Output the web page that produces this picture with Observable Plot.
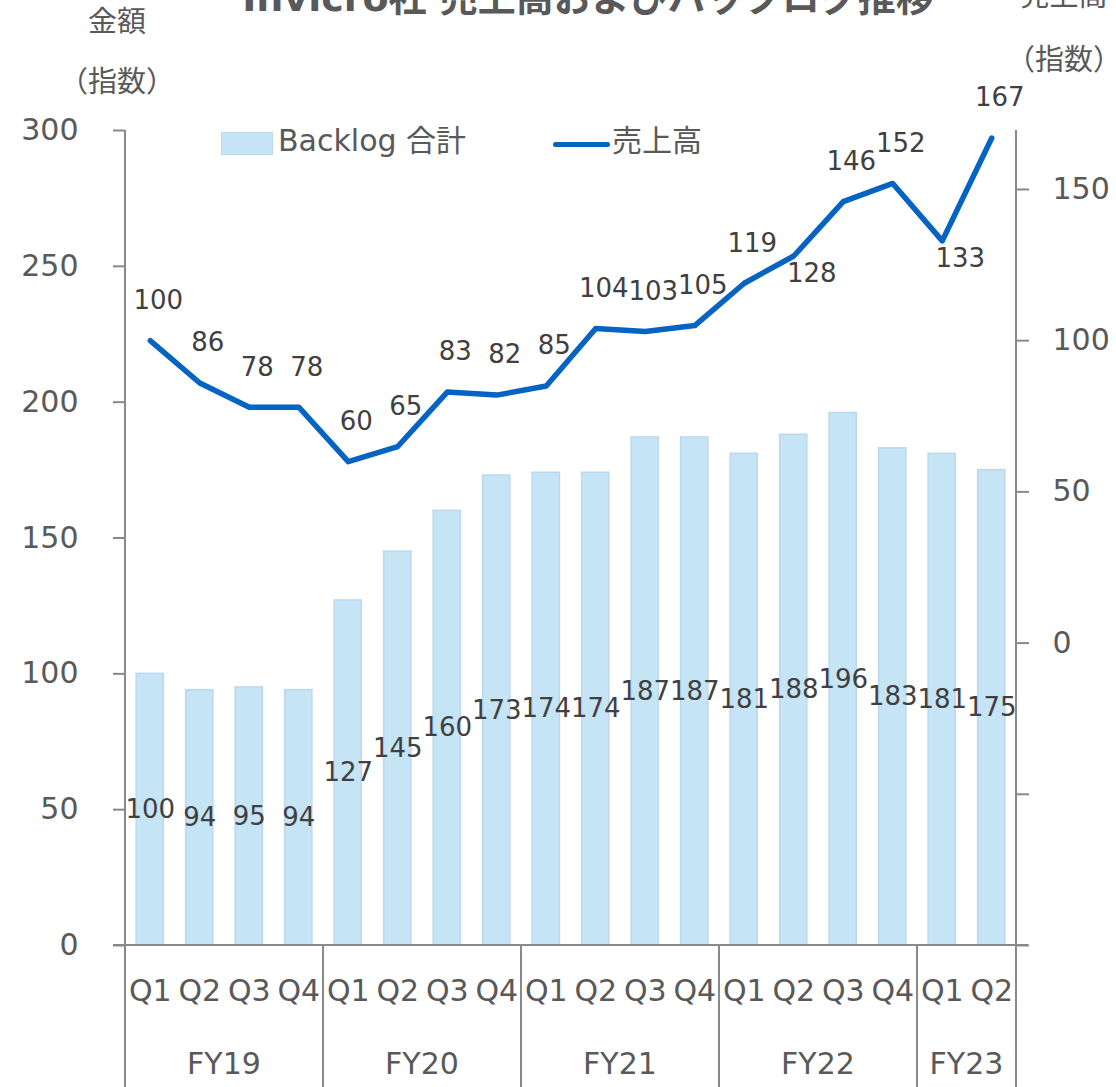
<!DOCTYPE html>
<html><head><meta charset="utf-8">
<script src="https://cdn.jsdelivr.net/npm/d3@7"></script>
<script src="https://cdn.jsdelivr.net/npm/@observablehq/plot@0.6"></script>
<style>
html,body{margin:0;padding:0;background:#fff;overflow:hidden}
#wrap{position:relative;width:1116px;height:1087px;overflow:hidden;font-family:"DejaVu Sans","Noto Sans CJK JP",sans-serif;color:#595959}
#wrap svg{position:absolute;left:0;top:0}
.abs{position:absolute;white-space:nowrap}
</style></head><body>
<div id="wrap">
  <div id="chart"></div>
  <div class="abs" style="left:0;width:1176px;text-align:center;top:-21px;font-size:38px;line-height:38px;font-weight:bold;">Invicro社 売上高およびバックログ推移</div>
  <div class="abs" style="left:57px;width:120px;text-align:center;top:7px;font-size:29px;line-height:30px;">金額</div>
  <div class="abs" style="left:37px;width:160px;text-align:center;top:67px;font-size:29px;line-height:30px;">（指数）</div>
  <div class="abs" style="left:1004px;width:120px;text-align:center;top:-19px;font-size:29px;line-height:30px;">売上高</div>
  <div class="abs" style="left:984px;width:160px;text-align:center;top:45px;font-size:29px;line-height:30px;">（指数）</div>
  <div class="abs" style="left:221px;top:132px;width:50px;height:21px;background:#C5E4F5;border:1px solid #BCD8EE;"></div>
  <div class="abs" style="left:278px;top:126px;font-size:30px;line-height:30px;">Backlog 合計</div>
  <div class="abs" style="left:553px;top:142px;width:57px;height:5px;background:#0563C1;border-radius:3px;"></div>
  <div class="abs" style="left:612px;top:126px;font-size:30px;line-height:30px;">売上高</div>
</div>
<script>
const quarters = ["Q1","Q2","Q3","Q4","Q1","Q2","Q3","Q4","Q1","Q2","Q3","Q4","Q1","Q2","Q3","Q4","Q1","Q2"];
const fiscalYears = ["FY19","FY19","FY19","FY19","FY20","FY20","FY20","FY20","FY21","FY21","FY21","FY21","FY22","FY22","FY22","FY22","FY23","FY23"];
const backlog = [100,94,95,94,127,145,160,173,174,174,187,187,181,188,196,183,181,175];
const sales = [100,86,78,78,60,65,83,82,85,104,103,105,119,128,146,152,133,167];
const fyGroups = ["FY19","FY20","FY21","FY22","FY23"];
const leftTicks = [0,50,100,150,200,250,300];
const rightTicks = [-100,-50,0,50,100,150];
const salesLabelBelow = [13,16]; // indices whose label sits under the line

const L_MAX = 300, R_MIN = -100, R_MAX = 169.5;
const toLeft = v => (v - R_MIN) / (R_MAX - R_MIN) * L_MAX;
const fromLeft = d => d / L_MAX * (R_MAX - R_MIN) + R_MIN;

const rows = quarters.map((q, i) => ({
  key: fiscalYears[i] + "-" + q, q, fy: fiscalYears[i], i,
  backlog: backlog[i], sales: sales[i], salesL: toLeft(sales[i])
}));
const keys = rows.map(d => d.key);
const font = '"DejaVu Sans","Noto Sans CJK JP",sans-serif';
const axisColor = "#898989";
const W = 1116, H = 1087, mL = 125, mR = 100;
const stepPx = (W - mL - mR) / keys.length;
const barInset = stepPx * 0.225;

const plot = Plot.plot({
  width: W, height: H,
  marginLeft: mL, marginRight: mR, marginTop: 130, marginBottom: 142,
  style: {fontFamily: font, fontSize: "30px", color: "#595959", background: "transparent", overflow: "visible"},
  x: {type: "band", domain: keys, padding: 0, round: false, axis: null},
  y: {domain: [0, L_MAX], axis: null},
  marks: [
    Plot.barY(rows, {x: "key", y: "backlog", fill: "#C5E4F5", stroke: "#BCD8EE", strokeWidth: 1.5, insetLeft: barInset, insetRight: barInset}),
    Plot.axisY(leftTicks, {anchor: "left", tickSize: 12, tickPadding: 35, stroke: axisColor, strokeWidth: 2, fill: "#595959", fontSize: 30, label: null}),
    Plot.axisY(rightTicks.map(toLeft), {anchor: "right", tickSize: 12, tickPadding: 24, stroke: axisColor, strokeWidth: 2, fill: "#595959", fontSize: 30, label: null,
      tickFormat: d => { const v = Math.round(fromLeft(d)); return v >= 0 ? String(v) : ""; }}),
    Plot.axisX({anchor: "bottom", tickSize: 0, tickPadding: 34, fontSize: 30, fill: "#595959", label: null, tickFormat: k => k.split("-")[1]}),
    Plot.text(rows, {x: "key", y: d => d.backlog / 2, text: d => String(d.backlog), fontSize: 26, fill: "#404040"}),
    Plot.line(rows, {x: "key", y: "salesL", stroke: "#0563C1", strokeWidth: 5.5, strokeLinejoin: "round", strokeLinecap: "round"}),
    Plot.text(rows.filter(d => !salesLabelBelow.includes(d.i)), {x: "key", y: "salesL", text: d => String(d.sales), dy: -40, dx: 8, fontSize: 26, fill: "#404040"}),
    Plot.text(rows.filter(d => salesLabelBelow.includes(d.i)), {x: "key", y: "salesL", text: d => String(d.sales), dy: 18, dx: 18, fontSize: 26, fill: "#404040"})
  ]
});
document.getElementById("chart").appendChild(plot);

// axis lines, category separators and fiscal-year labels, placed from the plot's scales
const sx = plot.scale("x"), sy = plot.scale("y");
const xL = mL, xR = W - mR;
const y0 = sy.apply(0), yTop = sy.apply(L_MAX);
const g = d3.select(plot).append("g").attr("stroke", axisColor).attr("stroke-width", 2);
g.append("line").attr("x1", xL).attr("x2", xL).attr("y1", yTop).attr("y2", H);
g.append("line").attr("x1", xR).attr("x2", xR).attr("y1", yTop).attr("y2", H);
g.append("line").attr("x1", xL - 12).attr("x2", xR + 12).attr("y1", y0).attr("y2", y0);
const bandStart = k => sx.apply(k);
const tg = d3.select(plot).append("g").attr("fill", "#595959").attr("font-size", 30).attr("font-family", font).attr("text-anchor", "middle");
fyGroups.forEach(fy => {
  const ks = rows.filter(d => d.fy === fy).map(d => d.key);
  const a = bandStart(ks[0]);
  const b = bandStart(ks[ks.length - 1]) + stepPx;
  if (a > xL + 1) g.append("line").attr("x1", a).attr("x2", a).attr("y1", y0).attr("y2", H);
  tg.append("text").attr("x", (a + b) / 2).attr("y", y0 + 118).attr("dy", "0.35em").text(fy);
});
</script>
</body></html>
